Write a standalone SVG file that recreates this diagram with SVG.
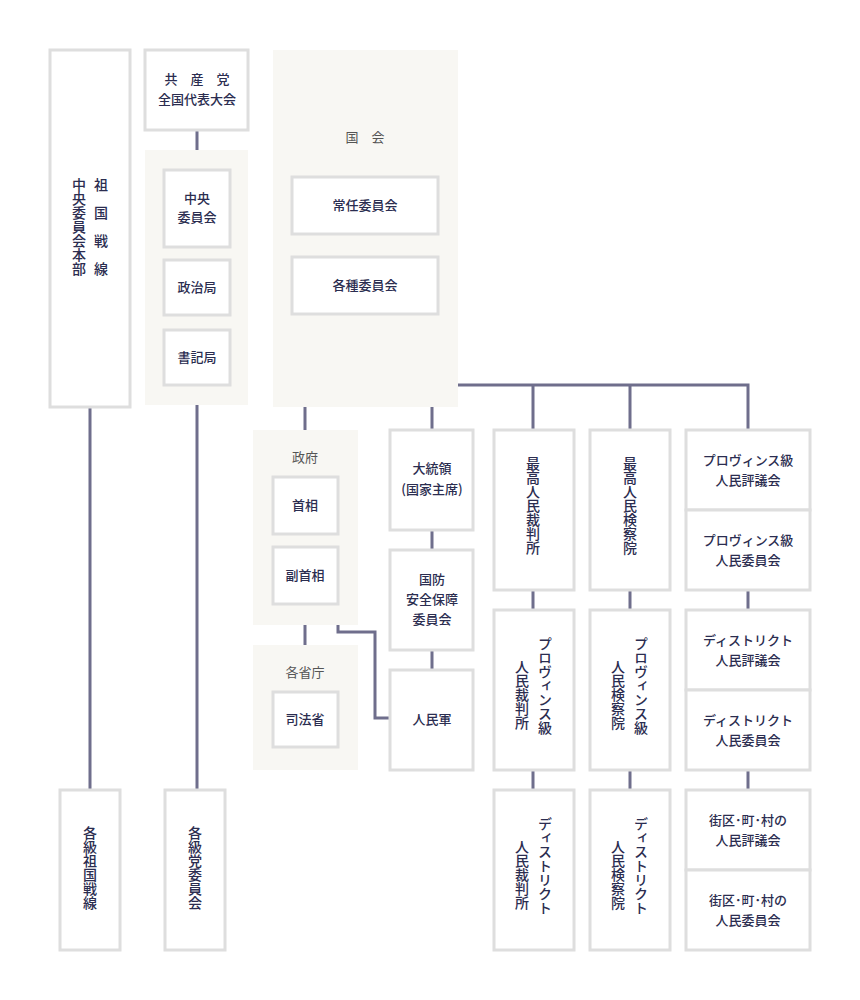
<svg xmlns="http://www.w3.org/2000/svg" width="860" height="1000" viewBox="0 0 860 1000">
<style>
.bx{fill:#fff;stroke:#dedede;stroke-width:3}
.pn{fill:#f8f7f3}
.t{font-family:"Noto Sans CJK JP","Noto Sans",sans-serif;font-size:13px;font-weight:500;fill:#2b2d50;text-anchor:middle}
.lb{font-family:"Noto Sans CJK JP","Noto Sans",sans-serif;font-size:13px;fill:#555;text-anchor:middle}
.v{font-family:"Noto Sans CJK JP","Noto Sans",sans-serif;font-size:14px;font-weight:500;fill:#2b2d50;writing-mode:vertical-rl;dominant-baseline:central}
.ln{fill:none;stroke:#6f6e8c;stroke-width:3}
</style>
<rect width="860" height="1000" fill="#fff"/>
<g id="connectors">
<path class="ln" d="M90 407V790M197 130V150M197 405V790M305 407V430M305 625V645M338 625V632H375V718H390M432 407V430M432 530V550M432 650V670M458 385H748V430M533 385V430M630 385V430M533 590V610M533 770V790M630 590V610M630 770V790M748 590V610M748 770V790"/>
</g>
<g id="sokoku"><rect class="bx" x="50" y="50" width="80" height="357"/>
<text class="v" x="101" y="178" letter-spacing="14">祖国戦線</text>
<text class="v" x="79" y="178" letter-spacing="0">中央委員会本部</text></g>
<g id="tou"><rect class="bx" x="145" y="50" width="103" height="80"/>
<text class="t" x="197" y="84" xml:space="preserve">共　産　党</text>
<text class="t" x="197" y="104">全国代表大会</text></g>
<g id="tou-panel"><rect class="pn" x="145" y="150" width="103" height="255"/></g>
<g id="chuo"><rect class="bx" x="164" y="170" width="66" height="77"/>
<text class="t" x="197" y="203">中央</text><text class="t" x="197" y="222">委員会</text></g>
<g id="seiji"><rect class="bx" x="164" y="260" width="66" height="55"/><text class="t" x="197" y="292">政治局</text></g>
<g id="shoki"><rect class="bx" x="164" y="330" width="66" height="55"/><text class="t" x="197" y="362">書記局</text></g>
<g id="kokkai"><rect class="pn" x="273" y="50" width="185" height="357"/>
<text class="lb" x="365" y="142" xml:space="preserve">国　会</text></g>
<g id="jonin"><rect class="bx" x="292" y="177" width="146" height="57"/><text class="t" x="365" y="210">常任委員会</text></g>
<g id="kakushu"><rect class="bx" x="292" y="257" width="146" height="57"/><text class="t" x="365" y="290">各種委員会</text></g>
<g id="seifu"><rect class="pn" x="253" y="430" width="105" height="195"/><text class="lb" x="305" y="462">政府</text></g>
<g id="shusho"><rect class="bx" x="273" y="477" width="65" height="57"/><text class="t" x="305" y="510">首相</text></g>
<g id="fuku"><rect class="bx" x="273" y="547" width="65" height="57"/><text class="t" x="305" y="580">副首相</text></g>
<g id="shocho"><rect class="pn" x="253" y="645" width="105" height="125"/><text class="lb" x="305" y="677">各省庁</text></g>
<g id="shiho"><rect class="bx" x="273" y="692" width="65" height="55"/><text class="t" x="305" y="724">司法省</text></g>
<g id="daitoryo"><rect class="bx" x="390" y="430" width="83" height="100"/>
<text class="t" x="432" y="473">大統領</text><text class="t" x="432" y="494">(国家主席)</text></g>
<g id="kokubo"><rect class="bx" x="390" y="550" width="83" height="100"/>
<text class="t" x="432" y="584">国防</text><text class="t" x="432" y="604">安全保障</text><text class="t" x="432" y="624">委員会</text></g>
<g id="jinmingun"><rect class="bx" x="390" y="670" width="83" height="100"/><text class="t" x="432" y="724">人民軍</text></g>
<g id="saiko-sai"><rect class="bx" x="494" y="430" width="80" height="160"/><text class="v" x="533" y="457">最高人民裁判所</text></g>
<g id="prov-sai"><rect class="bx" x="494" y="610" width="80" height="160"/><text class="v" x="545" y="637">プロヴィンス級</text><text class="v" x="522" y="660">人民裁判所</text></g>
<g id="dist-sai"><rect class="bx" x="494" y="790" width="80" height="160"/><text class="v" x="545" y="817">ディストリクト</text><text class="v" x="522" y="840">人民裁判所</text></g>
<g id="saiko-ken"><rect class="bx" x="590" y="430" width="80" height="160"/><text class="v" x="630" y="457">最高人民検察院</text></g>
<g id="prov-ken"><rect class="bx" x="590" y="610" width="80" height="160"/><text class="v" x="641" y="637">プロヴィンス級</text><text class="v" x="618" y="660">人民検察院</text></g>
<g id="dist-ken"><rect class="bx" x="590" y="790" width="80" height="160"/><text class="v" x="641" y="817">ディストリクト</text><text class="v" x="618" y="840">人民検察院</text></g>
<g id="prov-hyo"><rect class="bx" x="686" y="430" width="124" height="80"/><text class="t" x="748" y="465">プロヴィンス級</text><text class="t" x="748" y="485">人民評議会</text></g>
<g id="prov-iin"><rect class="bx" x="686" y="510" width="124" height="80"/><text class="t" x="748" y="545">プロヴィンス級</text><text class="t" x="748" y="565">人民委員会</text></g>
<g id="dist-hyo"><rect class="bx" x="686" y="610" width="124" height="80"/><text class="t" x="748" y="645">ディストリクト</text><text class="t" x="748" y="665">人民評議会</text></g>
<g id="dist-iin"><rect class="bx" x="686" y="690" width="124" height="80"/><text class="t" x="748" y="725">ディストリクト</text><text class="t" x="748" y="745">人民委員会</text></g>
<g id="gai-hyo"><rect class="bx" x="686" y="790" width="124" height="80"/><text class="t" x="748" y="825">街区･町･村の</text><text class="t" x="748" y="845">人民評議会</text></g>
<g id="gai-iin"><rect class="bx" x="686" y="870" width="124" height="80"/><text class="t" x="748" y="905">街区･町･村の</text><text class="t" x="748" y="925">人民委員会</text></g>
<g id="kakkyu-sokoku"><rect class="bx" x="60" y="790" width="60" height="160"/><text class="v" x="90" y="826">各級祖国戦線</text></g>
<g id="kakkyu-tou"><rect class="bx" x="165" y="790" width="60" height="160"/><text class="v" x="195" y="826">各級党委員会</text></g>
</svg>
